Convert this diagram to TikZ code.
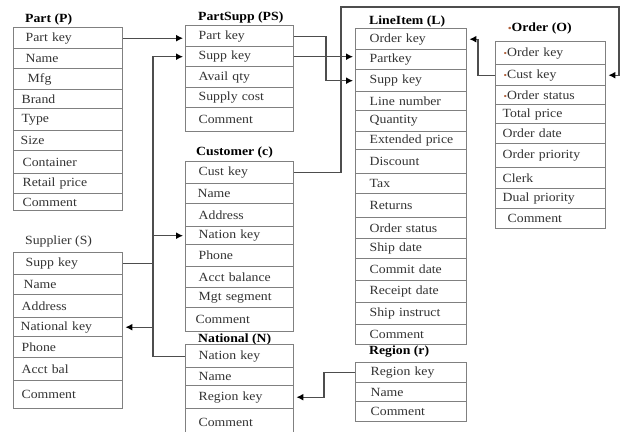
\documentclass[tikz,border=0pt]{standalone}
\usepackage{fontspec}
\setmainfont[FakeStretch=1.1]{Liberation Serif}
\usetikzlibrary{arrows.meta}
\definecolor{boxgray}{HTML}{808080}
\definecolor{conngray}{HTML}{4D4D4D}
\definecolor{txt}{HTML}{333333}
\definecolor{bulc}{HTML}{B0603A}
\newcommand{\rowfont}{\fontsize{12.5}{14}\selectfont}
\newcommand{\obul}{{\color{bulc}\fontsize{9}{9}\selectfont\textbullet}}
\newcommand{\mktable}[4]{%
  \foreach \ry/\rh/\ri/\rtxt [count=\k] in {#4}{
    \node[row, text width=#3pt, minimum height=\rh pt] (#1\k) at (#2,\ry) {\hspace*{\ri pt}\rtxt};
  }}
\begin{document}
\begin{tikzpicture}[x=1pt,y=-1pt,
  row/.style={draw=boxgray, line width=1.4pt, inner xsep=0pt, inner ysep=0pt,
    anchor=north west, align=left, font=\rowfont, text=txt},
  ttl/.style={anchor=west, inner sep=0pt, font=\rowfont\bfseries, text=black},
  ttlr/.style={anchor=west, inner sep=0pt, font=\rowfont, text=txt},
  conn/.style={draw=conngray, line width=1.3pt},
  arr/.style={conn, -{Latex[length=7pt,width=7pt,color=black]}, shorten >=2pt}]
\useasboundingbox (0,0) rectangle (621,431);
\clip (0,0) rectangle (621,431);
\fill[white] (0,0) rectangle (621,431);

% Part
\node[ttl] (Pt) at (25,19) {Part (P)};
\mktable{P}{13}{109}{27/21/12/Part key, 48/20/12/Name, 68/21/14/Mfg, 89/19/8/Brand,
  108/22/8/Type, 130/20/7/Size, 150/23/9/Container, 173/20/9/Retail price, 193/17/9/Comment}

% PartSupp
\node[ttl] (PSt) at (198,17) {PartSupp (PS)};
\mktable{PS}{185}{108}{25/21/13/Part key, 46/20/13/Supp key, 66/21/13/Avail qty,
  87/20/13/Supply cost, 107/24/13/Comment}

% Customer
\node[ttl] (Ct) at (196,152) {Customer (c)};
\mktable{C}{185}{108}{161/22/13/Cust key, 183/20/12/Name, 203/23/13/Address,
  226/18/13/Nation key, 244/22/13/Phone, 266/21/13/Acct balance,
  287/20/13/Mgt segment, 307/24/10/Comment}

% LineItem
\node[ttl] (Lt) at (369,21) {LineItem (L)};
\mktable{L}{355}{111}{28/21/14/Order key, 49/20/14/Partkey, 69/22/14/Supp key,
  91/19/14/Line number, 110/21/14/Quantity, 131/18/14/Extended price,
  149/24/14/Discount, 173/20/14/Tax, 193/24/14/Returns, 217/21/14/Order status,
  238/20/14/Ship date, 258/22/14/Commit date, 280/22/14/Receipt date,
  302/22/14/Ship instruct, 324/20/14/Comment}

% Order
\node[ttl] (Ot) at (508,28) {\obul Order (O)};
\mktable{O}{495}{110}{41/23/8/\obul Order key, 64/21/8/\obul Cust key,
  85/19/8/\obul Order status, 104/19/7/Total price, 123/20/7/Order date,
  143/24/7/Order priority, 167/21/7/Clerk, 188/20/7/Dual priority, 208/20/12/Comment}

% Supplier
\node[ttlr] (St) at (25,241) {Supplier (S)};
\mktable{S}{13}{109}{252/22/12/Supp key, 274/20/10/Name, 294/23/8/Address,
  317/19/7/National key, 336/21/8/Phone, 357/23/8/Acct bal, 380/28/8/Comment}

% National
\node[ttl] (Nt) at (198,339) {National (N)};
\mktable{N}{185}{108}{344/23/13/Nation key, 367/18/13/Name, 385/23/13/Region key,
  408/27/13/Comment}

% Region
\node[ttl] (Rt) at (369,352) {Region (r)};
\mktable{R}{355}{111}{362/20/15/Region key, 382/19/15/Name, 401/20/15/Comment}

% routing coordinates
\coordinate (busx) at (153,0);
\coordinate (jogA) at (326,0);
\coordinate (jogB) at (478,0);
\coordinate (jogC) at (324,0);
\coordinate (topl) at (341,7);
\coordinate (topr) at (619,7);

% connectors
\draw[arr] (P1.east) -- (P1.east -| PS1.west);
\draw[arr] (S1.east) -| (busx |- PS2.west) -- (PS2.west);
\draw[arr] (PS1.east) -| (jogA |- L3.west) -- (L3.west);
\draw[arr] (PS2.east) -- (PS2.east -| L2.west);
\draw[arr] (C1.east) -| (topl) -- (topr) |- (O2.east);
\draw[arr] (O2.west) -| (jogB |- L1.east) -- (L1.east);
\draw[arr] (N1.west) -| (busx |- C4.west) -- (C4.west);
\draw[arr] (busx |- S4.east) -- (S4.east);
\draw[arr] (R1.west) -| (jogC |- N3.east) -- (N3.east);
\end{tikzpicture}
\end{document}
